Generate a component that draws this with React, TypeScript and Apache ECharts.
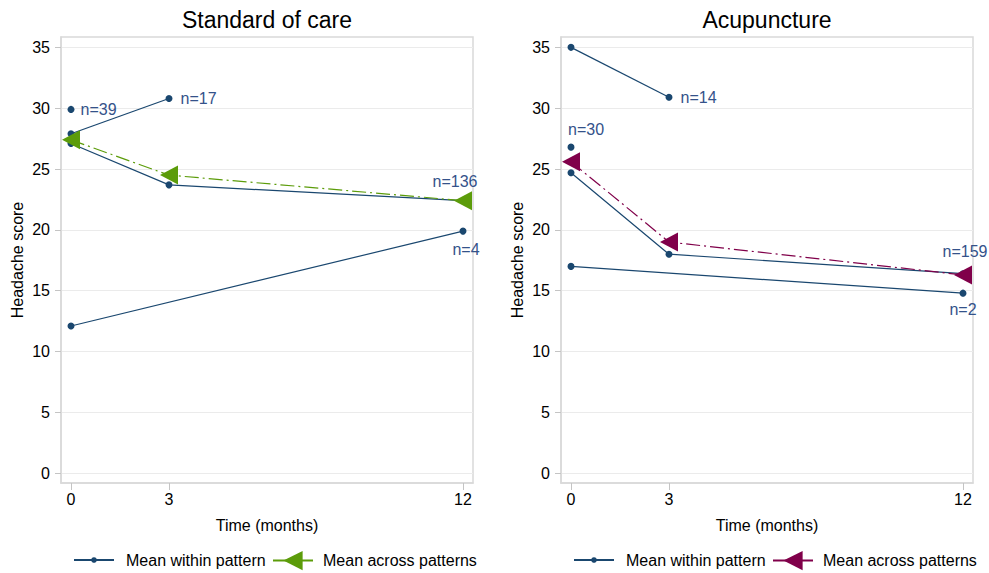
import React, { useEffect, useRef } from 'react';
import * as echarts from 'echarts';

// ---------- data ----------
const months = [0, 3, 12];
const yTicks = [0, 5, 10, 15, 20, 25, 30, 35];
const panelTitles = ['Standard of care', 'Acupuncture'];

// Standard of care: mean within each dropout pattern
const socN39 = [29.9, null, null];
const socN17 = [27.9, 30.8, null];
const socN136 = [27.1, 23.7, 22.4];
const socN4 = [12.1, null, 19.9];
const socMean = [27.4, 24.5, 22.4];
const socCounts = ['n=39', 'n=17', 'n=136', 'n=4'];

// Acupuncture
const acuN14 = [35.0, 30.9, null];
const acuN30 = [26.8, null, null];
const acuN159 = [24.7, 18.0, 16.4];
const acuN2 = [17.0, null, 14.8];
const acuMean = [25.6, 19.0, 16.3];
const acuCounts = ['n=14', 'n=30', 'n=159', 'n=2'];

// ---------- style ----------
const FONT = '"Liberation Sans", Arial, Helvetica, sans-serif';
const NAVY = '#1a476f';
const LABEL = '#34528a';
const GREEN = '#5c9c0a';
const MAROON = '#80004a';
const FRAME = '#d9d9d9';
const TICK = '#c4c4c4';
const GRID = '#ebebeb';

type Spec = { idx: number; position: string; distance: number; offset?: number[]; align?: string };

const socSpecs: Spec[] = [
  { idx: 0, position: 'right', distance: 6 },
  { idx: 1, position: 'right', distance: 8 },
  { idx: 2, position: 'top', distance: 8, offset: [-8, 0] },
  { idx: 2, position: 'bottom', distance: 7, offset: [3, 0] },
];
const acuSpecs: Spec[] = [
  { idx: 1, position: 'right', distance: 8 },
  { idx: 0, position: 'top', distance: 6, align: 'left', offset: [-3, 0] },
  { idx: 2, position: 'top', distance: 11, offset: [2, 0] },
  { idx: 2, position: 'bottom', distance: 5 },
];

function patternSeries(values: (number | null)[], grid: number, count: string, spec: Spec) {
  const data: any[] = [];
  months.forEach((m, i) => {
    const v = values[i];
    if (v == null) return;
    const item: any = { value: [m, v] };
    if (i === spec.idx) {
      item.label = {
        show: true,
        formatter: count,
        position: spec.position,
        distance: spec.distance,
        offset: spec.offset || [0, 0],
        align: spec.align,
      };
    }
    data.push(item);
  });
  return {
    type: 'line',
    name: 'Mean within pattern',
    xAxisIndex: grid,
    yAxisIndex: grid,
    data,
    symbol: 'circle',
    symbolSize: 7,
    itemStyle: { color: NAVY },
    lineStyle: { color: NAVY, width: 1.2 },
    label: { show: false, color: LABEL, fontSize: 16, fontFamily: FONT },
    clip: false,
    z: 2,
  };
}

function meanSeries(name: string, values: number[], grid: number, color: string) {
  return {
    type: 'line',
    name,
    xAxisIndex: grid,
    yAxisIndex: grid,
    data: months.map((m, i) => [m, values[i]]),
    symbol: 'triangle',
    symbolRotate: 90,
    symbolSize: [19, 18],
    itemStyle: { color },
    lineStyle: { color, width: 1.2, type: [14, 4, 2, 4] },
    clip: false,
    z: 3,
  };
}

const gridLefts = [61, 561];

export default function App() {
  const ref = useRef<HTMLDivElement>(null);
  useEffect(() => {
    if (!ref.current) return;
    const chart = echarts.init(ref.current, undefined, { renderer: 'svg' });
    const socPatterns = [socN39, socN17, socN136, socN4];
    const acuPatterns = [acuN14, acuN30, acuN159, acuN2];
    const series: any[] = [];
    socPatterns.forEach((p, i) => series.push(patternSeries(p, 0, socCounts[i], socSpecs[i])));
    acuPatterns.forEach((p, i) => series.push(patternSeries(p, 1, acuCounts[i], acuSpecs[i])));
    series.push(meanSeries('Mean across patterns', socMean, 0, GREEN));
    series.push(meanSeries('Mean across patterns (acupuncture)', acuMean, 1, MAROON));

    const legendText = { fontSize: 16, color: '#000', fontFamily: FONT };

    chart.setOption({
      animation: false,
      backgroundColor: '#fff',
      textStyle: { fontFamily: FONT },
      grid: gridLefts.map((l) => ({
        left: l,
        top: 37,
        width: 412,
        height: 446,
        show: true,
        borderColor: FRAME,
        borderWidth: 1.5,
        backgroundColor: '#fff',
      })),
      xAxis: [0, 1].map((i) => ({
        type: 'value',
        gridIndex: i,
        min: -0.306,
        max: 12.306,
        axisLine: { show: true, onZero: false, lineStyle: { color: FRAME, width: 1.5 } },
        axisTick: { show: true, length: 7, customValues: months, lineStyle: { color: TICK } },
        axisLabel: { customValues: months, fontSize: 16, color: '#000', margin: 8, fontFamily: FONT },
        splitLine: { show: false },
        name: 'Time (months)',
        nameLocation: 'middle',
        nameGap: 34,
        nameTextStyle: { fontSize: 16, color: '#000', fontFamily: FONT },
      })),
      yAxis: [0, 1].map((i) => ({
        type: 'value',
        gridIndex: i,
        min: -0.8,
        max: 35.85,
        axisLine: { show: true, onZero: false, lineStyle: { color: FRAME, width: 1.5 } },
        axisTick: { show: true, length: 6, customValues: yTicks, lineStyle: { color: TICK } },
        axisLabel: { customValues: yTicks, fontSize: 16, color: '#000', margin: 11, fontFamily: FONT },
        splitLine: { show: true, lineStyle: { color: GRID, width: 1 } },
        name: 'Headache score',
        nameLocation: 'middle',
        nameGap: 36,
        nameTextStyle: { fontSize: 16, color: '#000', fontFamily: FONT },
      })),
      legend: [
        {
          left: 73, top: 552, padding: 0, itemWidth: 40, itemHeight: 7, selectedMode: false,
          data: ['Mean within pattern'],
          textStyle: { ...legendText, padding: [0, 0, 0, 7] },
        },
        {
          left: 272, top: 551, padding: 0, itemWidth: 40, itemHeight: 24, selectedMode: false,
          data: ['Mean across patterns'],
          lineStyle: { type: 'solid' },
          textStyle: { ...legendText, padding: [0, 0, 0, 5] },
        },
        {
          left: 573, top: 552, padding: 0, itemWidth: 40, itemHeight: 7, selectedMode: false,
          data: ['Mean within pattern'],
          textStyle: { ...legendText, padding: [0, 0, 0, 7] },
        },
        {
          left: 772, top: 551, padding: 0, itemWidth: 40, itemHeight: 24, selectedMode: false,
          data: ['Mean across patterns (acupuncture)'],
          formatter: () => 'Mean across patterns',
          lineStyle: { type: 'solid' },
          textStyle: { ...legendText, padding: [0, 0, 0, 5] },
        },
      ],
      graphic: panelTitles.map((t, i) => ({
        type: 'text',
        x: gridLefts[i] + 206,
        y: 20,
        style: {
          text: t,
          align: 'center',
          verticalAlign: 'middle',
          fontSize: 23,
          fontFamily: FONT,
          fill: '#000',
        },
      })),
      series,
    });
    return () => chart.dispose();
  }, []);
  return (
    <div
      ref={ref}
      style={{ position: 'absolute', left: 0, top: 0, width: 989, height: 573 }}
    />
  );
}
